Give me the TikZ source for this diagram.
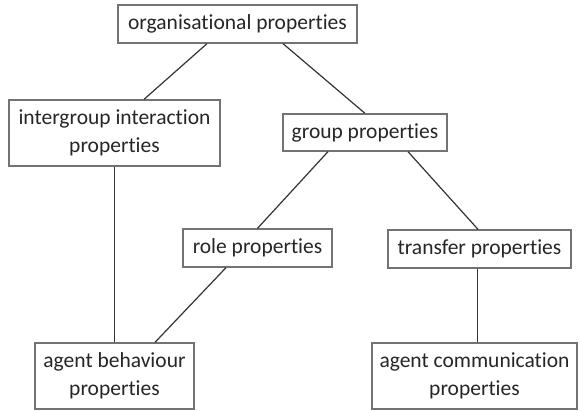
\documentclass[tikz,border=0pt]{standalone}
\usepackage{fontspec}
\setmainfont{Carlito}[Ligatures={NoCommon,NoRequired,NoContextual}]
\begin{document}
\begin{tikzpicture}[x=1pt,y=1pt,
  box/.style={draw=black!55, line width=1.3pt, fill=white, inner sep=0pt,
    align=center, text=black!85, font=\fontsize{21.5}{28}\selectfont},
  conn/.style={draw=black!80, line width=1.2pt}]
\useasboundingbox (0,0) rectangle (581,410);
\node[box, minimum width=239, minimum height=38] (org) at (237.5,386) {organisational properties};
\node[box, minimum width=211, minimum height=66] (inter) at (114.5,277) {intergroup interaction\\properties};
\node[box, minimum width=164, minimum height=37] (group) at (365,277.5) {group properties};
\node[box, minimum width=149, minimum height=38] (role) at (257.5,162) {role properties};
\node[box, minimum width=183, minimum height=38] (transfer) at (479.5,161) {transfer properties};
\node[box, minimum width=159, minimum height=66] (behav) at (114.5,34) {agent behaviour\\properties};
\node[box, minimum width=205, minimum height=66] (comm) at (474.5,34) {agent communication\\properties};
\draw[conn] ([xshift=-30.5]org.south) -- ([xshift=29.5]inter.north);
\draw[conn] ([xshift=45.5]org.south) -- (group.north);
\draw[conn] ([xshift=-37]group.south) -- (role.north);
\draw[conn] ([xshift=43]group.south) -- ([xshift=-1.5]transfer.north);
\draw[conn] (inter.south) -- (behav.north);
\draw[conn] ([xshift=-31.5]role.south) -- ([xshift=40.5]behav.north);
\draw[conn] ([xshift=-2]transfer.south) -- ([xshift=3]comm.north);
\end{tikzpicture}
\end{document}
